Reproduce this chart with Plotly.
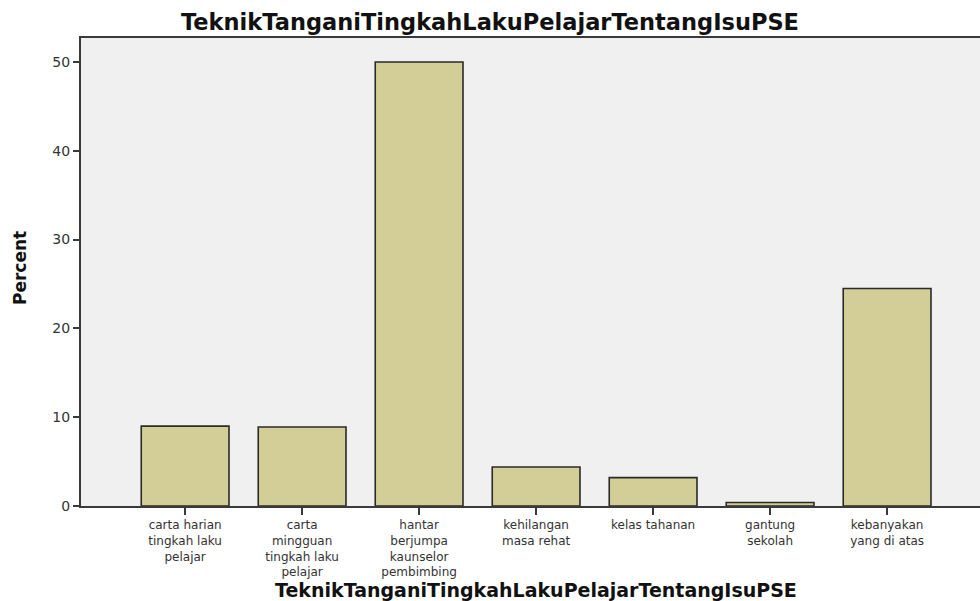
import plotly.graph_objects as go

categories = [
    "carta harian<br>tingkah laku<br>pelajar",
    "carta<br>mingguan<br>tingkah laku<br>pelajar",
    "hantar<br>berjumpa<br>kaunselor<br>pembimbing",
    "kehilangan<br>masa rehat",
    "kelas tahanan",
    "gantung<br>sekolah",
    "kebanyakan<br>yang di atas",
]
percent = [9.0, 8.9, 50.0, 4.4, 3.2, 0.4, 24.5]
y_ticks = [0, 10, 20, 30, 40, 50]
title_text = "TeknikTanganiTingkahLakuPelajarTentangIsuPSE"

FONT = "DejaVu Sans"
AXIS = "#3a3a3a"

fig = go.Figure(
    go.Bar(
        x=categories,
        y=percent,
        marker=dict(color="#d3ce97", line=dict(color="#2a2a2a", width=1.6)),
        width=0.75,
        hoverinfo="x+y",
    )
)

fig.update_layout(
    width=980,
    height=601,
    margin=dict(l=81, r=0, t=38, b=95, autoexpand=False),
    paper_bgcolor="white",
    plot_bgcolor="#f0f0f0",
    showlegend=False,
    title=dict(
        text="<b>" + title_text + "</b>",
        x=0.5,
        xref="container",
        xanchor="center",
        y=1 - 22 / 601,
        yref="container",
        yanchor="middle",
        font=dict(family=FONT, size=22.5, color="#111"),
    ),
    font=dict(family=FONT, color="#333"),
)

fig.update_xaxes(
    type="category",
    range=[-0.89, 6.794],
    automargin=False,
    showline=True,
    linecolor=AXIS,
    linewidth=2,
    mirror=True,
    ticks="outside",
    ticklen=7,
    tickwidth=2,
    tickcolor=AXIS,
    showgrid=False,
    tickfont=dict(family=FONT, size=12, color="#333"),
)

fig.update_yaxes(
    range=[0, 52.7],
    automargin=False,
    tickvals=y_ticks,
    showline=True,
    linecolor=AXIS,
    linewidth=2,
    ticks="outside",
    ticklen=6,
    tickwidth=2,
    tickcolor=AXIS,
    showgrid=False,
    zeroline=False,
    tickfont=dict(family=FONT, size=14, color="#333"),
)

fig.add_annotation(
    text="<b>" + title_text + "</b>",
    x=3, xref="x",
    y=0, yref="paper",
    yshift=-84,
    yanchor="middle",
    showarrow=False,
    font=dict(family=FONT, size=19, color="#111"),
)
fig.add_annotation(
    text="<b>Percent</b>",
    x=0, xref="paper",
    xshift=-61,
    y=(506 - 268) / 468, yref="paper",
    xanchor="center",
    yanchor="middle",
    textangle=-90,
    showarrow=False,
    font=dict(family=FONT, size=17, color="#111"),
)

fig.write_html(
    "out.html",
    config={"displayModeBar": False},
    post_script="document.body.style.margin='0px';document.body.style.overflow='hidden';",
)
